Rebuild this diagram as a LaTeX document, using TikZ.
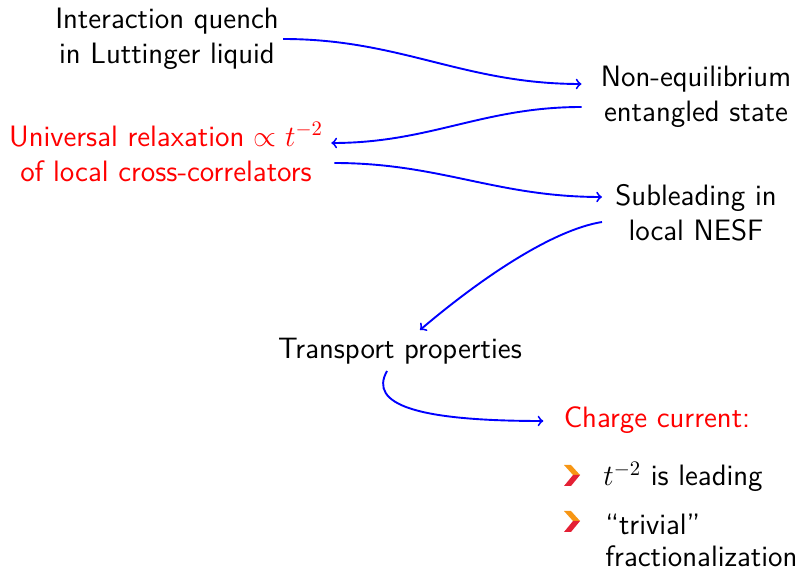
\documentclass[tikz,border=0pt]{standalone}
\usepackage{fix-cm}
\usetikzlibrary{calc}
\definecolor{bulorange}{RGB}{247,150,20}
\definecolor{bulred}{RGB}{228,32,52}
\tikzset{
  lbl/.style={font=\sffamily\fontsize{14.75}{17.75}\selectfont, inner sep=0pt, align=center, anchor=base},
  redlbl/.style={lbl, text=red},
  itm/.style={font=\sffamily\fontsize{14.75}{16}\selectfont, inner sep=0pt, align=left, anchor=base west},
  arr/.style={->, draw=blue, line width=0.95pt},
  chev/.pic={
    \fill[bulorange] (-16,10) -- (-9,10) -- (0,0) -- (-7,0) -- cycle;
    \fill[bulred] (-7,0) -- (0,0) -- (-9,-11) -- (-16,-11) -- cycle;
  }
}
\begin{document}
\begin{tikzpicture}[x=0.5pt,y=0.5pt]
\useasboundingbox (0,0) rectangle (799,-571);
\node[lbl] (A) at (167,-64) {Interaction quench\\in Luttinger liquid};
\node[lbl] (B) at (696,-122) {Non-equilibrium\\entangled state};
\node[redlbl] (C) at (166,-182) {Universal relaxation $\propto t^{-2}$\\of local cross-correlators};
\node[lbl] (D) at (696,-241) {Subleading in\\local NESF};
\node[lbl] (E) at (400,-359) {Transport properties};
\node[redlbl] (F) at (657,-428) {Charge current:};
\pic at (580,-475) {chev};
\pic at (580,-521) {chev};
\node[itm] (G1) at (603,-486) {$t^{-2}$ is leading};
\node[itm] (G2) at (605,-567) {“trivial”\\fractionalization};

\coordinate (s1) at ($(A.base east)+(4,25)$);
\coordinate (e1) at ($(B.base west)+(-19,38)$);
\coordinate (s2) at ($(B.base west)+(-19,15)$);
\coordinate (e2) at ($(C.base east)+(8,39)$);
\coordinate (s3) at ($(C.base east)+(11,19)$);
\coordinate (e3) at ($(D.base west)+(-13,44)$);
\coordinate (s4) at ($(D.base west)+(-13,19)$);
\coordinate (e4) at ($(E.base)+(20,29)$);
\coordinate (s5) at ($(E.base)+(-13,-12)$);
\coordinate (e5) at ($(F.base west)+(-20,7)$);

\draw[arr] (s1) to[out=0,in=180] (e1);
\draw[arr] (s2) to[out=180,in=0] (e2);
\draw[arr] (s3) to[out=0,in=180] (e3);
\draw[arr] (s4) .. controls +(-50,-8) and +(60,51) .. (e4);
\draw[arr] (s5) .. controls +(-19,-34) and +(-125,0) .. (e5);
\end{tikzpicture}
\end{document}
